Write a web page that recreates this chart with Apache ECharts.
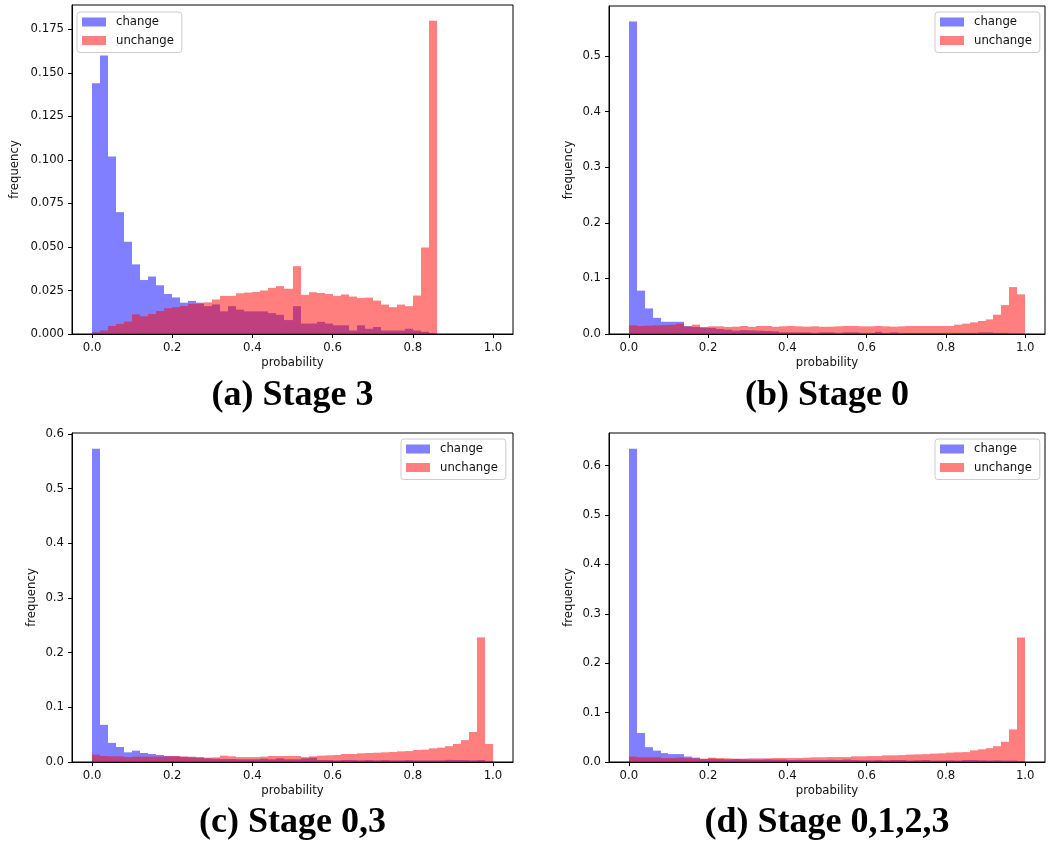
<!DOCTYPE html>
<html>
<head>
<meta charset="utf-8">
<script src="https://cdn.jsdelivr.net/npm/echarts@6/dist/echarts.min.js"></script>
<style>
  html, body { margin: 0; padding: 0; background: #fff; }
  #chart { width: 1048px; height: 857px; }
</style>
</head>
<body>
<div id="chart"></div>
<script>
// histogram bins are 0.02 wide, starting at 0
const BIN = 0.02;
const xTicks = [0, 0.2, 0.4, 0.6, 0.8, 1.0];
const yTicksA = [0, 0.025, 0.05, 0.075, 0.1, 0.125, 0.15, 0.175];
const yTicksB = [0, 0.1, 0.2, 0.3, 0.4, 0.5];
const yTicksCD = [0, 0.1, 0.2, 0.3, 0.4, 0.5, 0.6];
const captions = ['(a) Stage 3', '(b) Stage 0', '(c) Stage 0,3', '(d) Stage 0,1,2,3'];

// (a) Stage 3
const changeA = [0.144, 0.160, 0.102, 0.070, 0.053, 0.040, 0.031, 0.033, 0.028, 0.023,
  0.021, 0.018, 0.019, 0.018, 0.016, 0.017, 0.013, 0.016, 0.014, 0.013,
  0.013, 0.013, 0.012, 0.011, 0.008, 0.016, 0.006, 0.006, 0.007, 0.006,
  0.005, 0.005, 0.002, 0.005, 0.003, 0.004, 0.002, 0.002, 0.002, 0.003,
  0.002, 0.0013, 0.0006];
const unchangeA = [0.001, 0.002, 0.0046, 0.0058, 0.0071, 0.0113, 0.0102, 0.0115, 0.0132, 0.0148,
  0.0154, 0.0161, 0.0173, 0.0173, 0.0182, 0.0198, 0.0219, 0.0219, 0.0234, 0.0238,
  0.0242, 0.025, 0.0265, 0.0275, 0.026, 0.039, 0.0225, 0.024, 0.0236, 0.023,
  0.0219, 0.0227, 0.0215, 0.0207, 0.0209, 0.0192, 0.0169, 0.0154, 0.0169, 0.016,
  0.0221, 0.0497, 0.180];

// (b) Stage 0
const changeB = [0.562, 0.078, 0.046, 0.029, 0.022, 0.022, 0.022, 0.014, 0.0126, 0.0114,
  0.011, 0.009, 0.0078, 0.006, 0.007, 0.0066, 0.006, 0.0054, 0.0048, 0.003,
  0.003, 0.003, 0.003, 0.002, 0.003, 0.003, 0.002, 0.003, 0.003, 0.002,
  0.002, 0.004, 0.002, 0.003, 0.002, 0.002, 0.002, 0.002, 0.002, 0.002,
  0.002, 0.002, 0.002, 0.002, 0.003, 0.003, 0.002, 0.002, 0.001, 0.001];
const unchangeB = [0.0156, 0.0144, 0.015, 0.0156, 0.016, 0.0168, 0.0186, 0.0138, 0.0168, 0.0126,
  0.0138, 0.0138, 0.0126, 0.0132, 0.0144, 0.013, 0.0144, 0.0144, 0.013, 0.0138,
  0.0144, 0.0138, 0.0132, 0.0138, 0.013, 0.0132, 0.0138, 0.0144, 0.0144, 0.0138,
  0.0138, 0.0144, 0.0138, 0.0132, 0.0138, 0.0144, 0.0144, 0.0144, 0.0144, 0.0144,
  0.0144, 0.0168, 0.0186, 0.021, 0.0234, 0.0263, 0.0347, 0.052, 0.0844, 0.0713];

// (c) Stage 0,3
const changeC = [0.573, 0.068, 0.035, 0.0274, 0.0177, 0.0207, 0.0165, 0.0146, 0.0128, 0.011,
  0.0104, 0.009, 0.0085, 0.008, 0.0067, 0.006, 0.0055, 0.0055, 0.005, 0.005,
  0.005, 0.006, 0.005, 0.0067, 0.005, 0.005, 0.0067, 0.008, 0.0037, 0.0037,
  0.003, 0.0037, 0.0037, 0.003, 0.0037, 0.003, 0.0037, 0.003, 0.003, 0.0037,
  0.003, 0.003, 0.003, 0.003, 0.004, 0.0037, 0.0037, 0.003, 0.0037, 0.002];
const unchangeC = [0.0134, 0.011, 0.0104, 0.0104, 0.009, 0.0098, 0.0098, 0.0098, 0.0098, 0.0104,
  0.011, 0.0104, 0.0098, 0.009, 0.008, 0.0085, 0.0116, 0.0104, 0.009, 0.009,
  0.009, 0.0098, 0.011, 0.011, 0.011, 0.011, 0.009, 0.0104, 0.0116, 0.0122,
  0.0128, 0.0146, 0.0146, 0.0159, 0.0165, 0.017, 0.0177, 0.0183, 0.0195, 0.02,
  0.022, 0.0226, 0.025, 0.0262, 0.029, 0.033, 0.040, 0.055, 0.228, 0.033];

// (d) Stage 0,1,2,3
const changeD = [0.634, 0.0588, 0.030, 0.023, 0.018, 0.016, 0.016, 0.011, 0.0088, 0.006,
  0.0068, 0.006, 0.0055, 0.006, 0.0055, 0.005, 0.005, 0.0055, 0.005, 0.005,
  0.004, 0.0045, 0.004, 0.004, 0.004, 0.0045, 0.004, 0.005, 0.004, 0.0035,
  0.0035, 0.004, 0.0035, 0.004, 0.004, 0.003, 0.0035, 0.004, 0.003, 0.003,
  0.0035, 0.003, 0.004, 0.004, 0.0035, 0.003, 0.0035, 0.003, 0.003, 0.002];
const unchangeD = [0.011, 0.0095, 0.0095, 0.0095, 0.008, 0.008, 0.0088, 0.008, 0.0074, 0.0068,
  0.0088, 0.008, 0.0074, 0.0068, 0.0068, 0.0074, 0.0074, 0.0074, 0.008, 0.008,
  0.008, 0.008, 0.0088, 0.0095, 0.0095, 0.010, 0.010, 0.010, 0.0115, 0.0115,
  0.012, 0.012, 0.0135, 0.0135, 0.014, 0.015, 0.0155, 0.016, 0.017, 0.0176,
  0.019, 0.0196, 0.020, 0.0236, 0.0257, 0.028, 0.032, 0.041, 0.066, 0.252];

const FONT = 'DejaVu Sans';
const FS = 11.7;
const TXT = '#111';

const panels = [
  { grid: { left: 72, top: 5, width: 441, height: 329 }, yMax: 0.189, yTicks: yTicksA, digits: 3,
    change: changeA, unchange: unchangeA, legend: { left: 77, top: 12 }, nameGap: 51, cap: [292.5, 396] },
  { grid: { left: 609, top: 6, width: 436, height: 328 }, yMax: 0.59, yTicks: yTicksB, digits: 1,
    change: changeB, unchange: unchangeB, legend: { left: 935, top: 12 }, nameGap: 34, cap: [827, 396] },
  { grid: { left: 72, top: 433, width: 441, height: 329 }, yMax: 0.602, yTicks: yTicksCD, digits: 1,
    change: changeC, unchange: unchangeC, legend: { left: 401, top: 439 }, nameGap: 34, cap: [292.5, 823] },
  { grid: { left: 609, top: 433, width: 436, height: 329 }, yMax: 0.666, yTicks: yTicksCD, digits: 1,
    change: changeD, unchange: unchangeD, legend: { left: 935, top: 439 }, nameGap: 34, cap: [827, 823] }
];

function toBins(values) {
  return values.map((v, i) => [i * BIN, (i + 1) * BIN, v]);
}

// snap bin edges to whole pixels so neighbouring bars meet without seams
function renderBin(params, api) {
  const p0 = api.coord([api.value(0), 0]);
  const p1 = api.coord([api.value(1), api.value(2)]);
  const x0 = Math.round(p0[0]), x1 = Math.round(p1[0]);
  return {
    type: 'rect',
    shape: { x: x0, y: p1[1], width: x1 - x0, height: p0[1] - p1[1] },
    style: api.style()
  };
}

const grids = [], xAxes = [], yAxes = [], series = [], legends = [], graphics = [];

panels.forEach((p, k) => {
  grids.push(Object.assign({ show: true, borderColor: '#000', borderWidth: 1, backgroundColor: 'transparent' }, p.grid));
  xAxes.push({
    type: 'value', gridIndex: k, min: -0.05, max: 1.05,
    name: 'probability', nameLocation: 'middle', nameGap: 23,
    nameTextStyle: { fontFamily: FONT, fontSize: FS, color: TXT },
    splitLine: { show: false },
    axisLine: { show: true, onZero: false, lineStyle: { color: '#000', width: 1 } },
    axisTick: { show: true, length: 4, customValues: xTicks, lineStyle: { color: '#000' } },
    axisLabel: { customValues: xTicks, margin: 8, fontFamily: FONT, fontSize: FS, color: TXT,
      formatter: v => v.toFixed(1) }
  });
  yAxes.push({
    type: 'value', gridIndex: k, min: 0, max: p.yMax,
    name: 'frequency', nameLocation: 'middle', nameRotate: 90, nameGap: p.nameGap,
    nameTextStyle: { fontFamily: FONT, fontSize: FS, color: TXT },
    splitLine: { show: false },
    axisLine: { show: true, onZero: false, lineStyle: { color: '#000', width: 1 } },
    axisTick: { show: true, length: 4, customValues: p.yTicks, lineStyle: { color: '#000' } },
    axisLabel: { customValues: p.yTicks, margin: 8, fontFamily: FONT, fontSize: FS, color: TXT,
      formatter: v => v.toFixed(p.digits) }
  });
  series.push({
    type: 'custom', name: 'change', xAxisIndex: k, yAxisIndex: k,
    renderItem: renderBin, encode: { x: [0, 1], y: 2 },
    itemStyle: { color: 'rgba(0,0,255,0.5)' },
    data: toBins(p.change), silent: true, animation: false
  });
  series.push({
    type: 'custom', name: 'unchange', xAxisIndex: k, yAxisIndex: k,
    renderItem: renderBin, encode: { x: [0, 1], y: 2 },
    itemStyle: { color: 'rgba(255,0,0,0.5)' },
    data: toBins(p.unchange), silent: true, animation: false
  });
  legends.push({
    left: p.legend.left, top: p.legend.top, orient: 'vertical',
    data: [{ name: 'change', icon: 'rect' }, { name: 'unchange', icon: 'rect' }],
    itemWidth: 24, itemHeight: 9, itemGap: 6.5,
    padding: [4, 8, 6, 5],
    backgroundColor: 'rgba(255,255,255,0.8)', borderColor: '#ccc', borderWidth: 1, borderRadius: 3,
    selectedMode: false,
    textStyle: { fontFamily: FONT, fontSize: FS, color: TXT, padding: [0, 0, 0, 5] }
  });
  graphics.push({
    type: 'text', x: p.cap[0], y: p.cap[1],
    style: { text: captions[k], font: 'bold 36px "Liberation Serif"', fill: '#000',
      align: 'center', verticalAlign: 'middle' }
  });
});

const chart = echarts.init(document.getElementById('chart'));
chart.setOption({
  animation: false,
  grid: grids,
  xAxis: xAxes,
  yAxis: yAxes,
  legend: legends,
  series: series,
  graphic: graphics
});
</script>
</body>
</html>
